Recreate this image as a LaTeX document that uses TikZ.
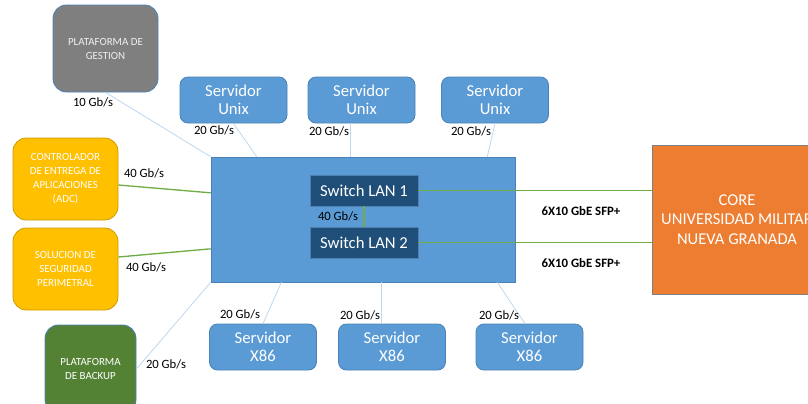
\documentclass[tikz,border=0pt]{standalone}
\usepackage{fontspec}
\setmainfont{Carlito}
\definecolor{srvblue}{HTML}{5B9BD5}
\definecolor{srvedge}{HTML}{4A82B8}
\definecolor{swblue}{HTML}{1F4E79}
\definecolor{swedge}{HTML}{4F7FAF}
\definecolor{linkblue}{HTML}{BDD7EE}
\definecolor{linkgreen}{HTML}{70AD47}
\definecolor{coreorange}{HTML}{ED7D31}
\definecolor{adcyellow}{HTML}{FFC000}
\definecolor{bkgreen}{HTML}{548235}
\definecolor{mgmtgray}{HTML}{7F7F7F}
\begin{document}
\begin{tikzpicture}[x=0.75pt, y=-0.75pt]
			\tikzstyle{box}     = [draw=srvedge, line width=0.6pt, text=white, align=center, inner sep=0pt]
			\tikzstyle{server}  = [box, rounded corners=6pt, fill=srvblue, minimum width=80.25pt, minimum height=34.5pt, font=\fontsize{12.5}{13.5}\selectfont]
			\tikzstyle{switch}  = [box, draw=swedge, fill=swblue, minimum width=81pt, minimum height=23.25pt, font=\fontsize{12.5}{14}\selectfont]
			\tikzstyle{side}    = [box, rounded corners=10pt, minimum width=78.75pt, minimum height=61.5pt, font=\fontsize{8.2}{10.5}\selectfont]
			\tikzstyle{rate}    = [inner sep=0pt, font=\fontsize{9.5}{11}\selectfont]
			\tikzstyle{uplink}  = [inner sep=0pt, font=\fontsize{9.6}{11}\selectfont\bfseries]
			\tikzstyle{link}    = [draw=linkblue, line width=0.6pt]
			\tikzstyle{fat}     = [draw=linkgreen, line width=1pt]

			\useasboundingbox (0,0) rectangle (808,404);
			\clip (0,0) rectangle (808,404);

			% central switch block
			\node[draw=srvedge, fill=srvblue, minimum width=228pt, minimum height=93.75pt] (main) at (363,219.5) {};
			\node[switch] (sw1) at (364,190.5) {Switch LAN 1};
			\node[switch] (sw2) at (364,242.5) {Switch LAN 2};

			% servers
			\foreach \name/\x/\y/\kind in {unix1/233.5/100/Unix, unix2/361.5/100/Unix, unix3/495/100/Unix, xa/263/347/X86, xb/392/347/X86, xc/529.5/347/X86}
				\node[server] (\name) at (\x, \y) {Servidor\\\kind};

			% side boxes
			\node[side, fill=mgmtgray, text=white!88!gray, minimum height=65.25pt] (gestion) at (105.5,48.5) {PLATAFORMA DE\\GESTION};
			\node[side, fill=adcyellow, draw=adcyellow!80!black] (adc) at (65.5,179) {CONTROLADOR\\DE ENTREGA DE\\APLICACIONES\\(ADC)};
			\node[side, fill=adcyellow, draw=adcyellow!80!black] (sol) at (65.5,269) {SOLUCION DE\\SEGURIDAD\\PERIMETRAL};
			\node[side, fill=bkgreen, draw=srvedge, minimum width=68.25pt, minimum height=66pt] (backup) at (90.5,369) {PLATAFORMA\\DE BACKUP};
			\node[box, draw=gray, fill=coreorange, minimum width=127.5pt, minimum height=111.75pt, font=\fontsize{12.4}{14.6}\selectfont] (core) at (737,219.5) {CORE\\UNIVERSIDAD MILITAR\\NUEVA GRANADA};

			% connectors
			\draw[link] (gestion.south) -- (main.north west);
			\draw[link] (unix1.south) -- ([xshift=34.5pt]main.north west);
			\draw[link] ([xshift=-8.6pt]unix2.south) -- ([xshift=-8.6pt]unix2.south |- main.north);
			\draw[link] (unix3.south) -- ([xshift=-21pt]main.north east);
			\draw[link] (backup.east) -- (main.south west);
			\draw[link] ([xshift=53pt]main.south west) -- (xa.north);
			\draw[link] ([xshift=-8.25pt]xb.north |- main.south) -- ([xshift=-8.25pt]xb.north);
			\draw[link] ([xshift=-13.5pt]main.south east) -- ([xshift=-3.4pt]xc.north);
			\draw[fat] ([yshift=-4.5pt]adc.east) -- ([yshift=20pt]main.west);
			\draw[fat] ([yshift=9pt]sol.east) -- ([yshift=-22pt]main.west);
			\draw[fat] (sw1.south) -- (sw2.north);
			\draw[fat] (sw1.east) -- (sw1.east -| core.west);
			\draw[fat] (sw2.east) -- (sw2.east -| core.west);

			% link rates
			\foreach \x/\y/\n in {93/102/10, 214/130/20, 329/131/20, 471/131/20, 144/173/40, 146/267/40, 338/216/40, 166/364/20, 240/314/20, 360/315/20, 499/315/20}
				\node[rate] at (\x, \y) {\n~Gb/s};
			\node[uplink] at (581,211) {6X10 GbE SFP+};
			\node[uplink] at (581,263) {6X10 GbE SFP+};
		\end{tikzpicture}
\end{document}
